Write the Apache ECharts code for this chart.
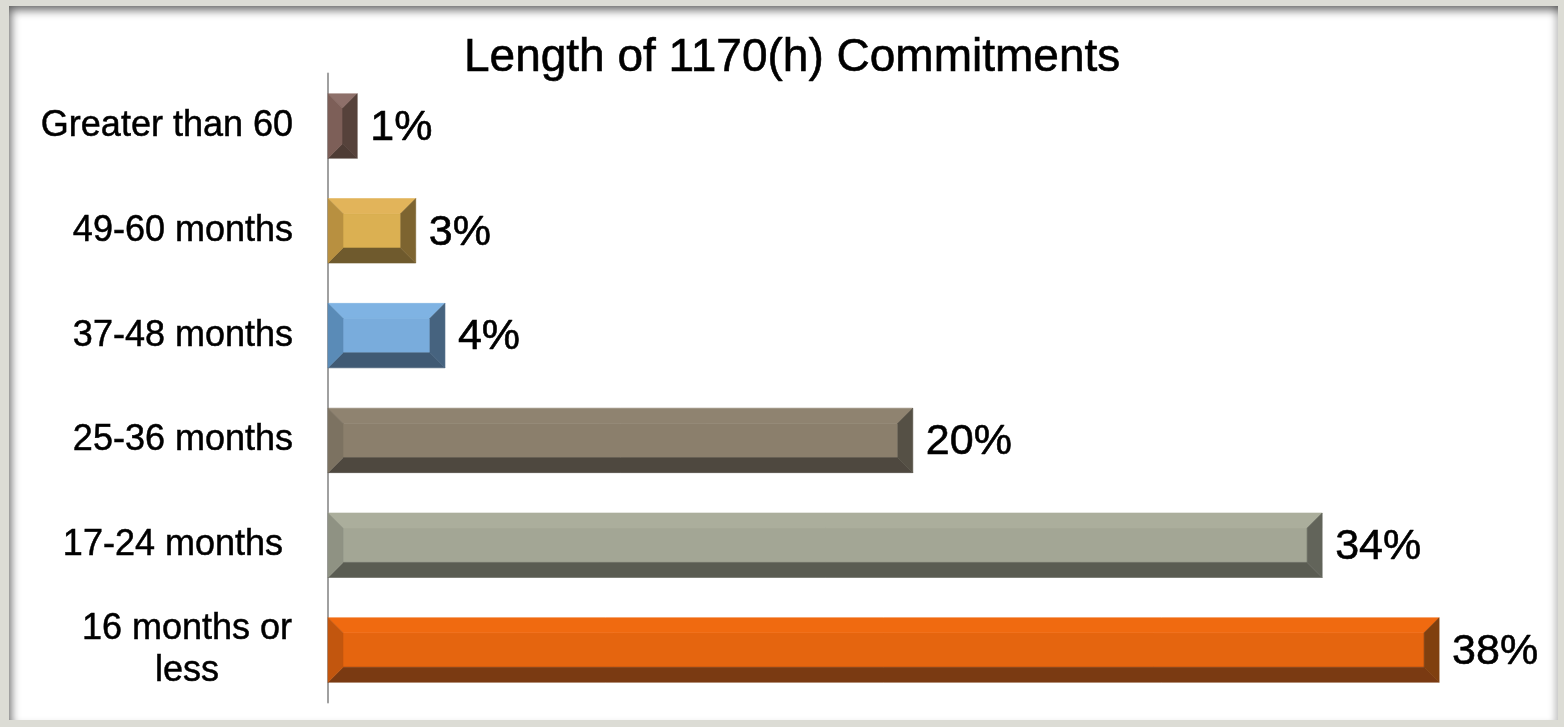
<!DOCTYPE html>
<html>
<head>
<meta charset="utf-8">
<title>Length of 1170(h) Commitments</title>
<script src="https://cdn.jsdelivr.net/npm/echarts@6/dist/echarts.min.js"></script>
<style>
  html, body { margin: 0; padding: 0; background: #dcdcd5; overflow: hidden; }
  #panel {
    position: absolute; left: 9px; top: 6px; width: 1549px; height: 714px;
    background: #fff;
    box-shadow: inset 7px 9px 10px -5px rgba(0,0,0,0.6), inset -7px 0 7px -4px rgba(0,0,0,0.25);
  }
  #chart { position: absolute; left: 0; top: 0; width: 1564px; height: 727px; }
</style>
</head>
<body>
<div id="panel"></div>
<div id="chart"></div>
<script>
// bottom -> top, as the category axis runs
const categories = ['16 months or\nless', '17-24 months ', '25-36 months', '37-48 months', '49-60 months', 'Greater than 60']
const percents = [38, 34, 20, 4, 3, 1]

// bevel faces per bar: top, left, center, right, bottom
const faceColors = [
  ['#f06a10', '#c2560e', '#e5650f', '#80400f', '#7a3a12'],
  ['#abae9c', '#8f9283', '#a3a695', '#62645a', '#5a5c52'],
  ['#8f8370', '#7c7261', '#8b7f6c', '#555045', '#4e483f'],
  ['#7fb3e3', '#5a8bb7', '#79acdc', '#46637f', '#405a74'],
  ['#e2b45a', '#b89040', '#dbb052', '#7d6430', '#6f5a2d'],
  ['#8e706a', '#7d5f58', '#7a5c55', '#56423b', '#4e3c35']
]

const chart = echarts.init(document.getElementById('chart'))

function renderBevelBar(params, api) {
  const idx = api.value(1)
  const start = api.coord([0, idx])
  const end = api.coord([api.value(0), idx])
  const h = api.size([0, 1])[1] * 0.615
  const x0 = start[0], x1 = end[0]
  const yT = start[1] - h / 2, yB = start[1] + h / 2
  const b = Math.min(15, (x1 - x0) / 2, h / 2)
  const c = faceColors[params.dataIndex]
  // thin stroke in the face colour hides the antialias seams between faces
  const poly = (pts, fill) => ({ type: 'polygon', shape: { points: pts }, style: { fill: fill, stroke: fill, lineWidth: 0.6 } })
  return {
    type: 'group',
    children: [
      { type: 'rect', shape: { x: x0 + b, y: yT + b, width: Math.max(0, x1 - x0 - 2 * b), height: h - 2 * b }, style: { fill: c[2], stroke: c[2], lineWidth: 0.6 } },
      poly([[x0, yT], [x1, yT], [x1 - b, yT + b], [x0 + b, yT + b]], c[0]),
      poly([[x0, yB], [x1, yB], [x1 - b, yB - b], [x0 + b, yB - b]], c[4]),
      poly([[x0, yT], [x0 + b, yT + b], [x0 + b, yB - b], [x0, yB]], c[1]),
      poly([[x1, yT], [x1 - b, yT + b], [x1 - b, yB - b], [x1, yB]], c[3]),
      {
        type: 'text',
        style: {
          text: api.value(0) + '%',
          x: x1 + 13, y: start[1] + 2,
          verticalAlign: 'middle', align: 'left',
          font: '43px "Liberation Sans"', fill: '#000',
          stroke: '#000', lineWidth: 0.6
        }
      }
    ]
  }
}

chart.setOption({
  animation: false,
  title: {
    text: 'Length of 1170(h) Commitments',
    left: 459,
    top: 30,
    textStyle: {
      fontFamily: 'Liberation Sans', fontSize: 46, fontWeight: 'normal', color: '#000',
      textBorderColor: '#000', textBorderWidth: 0.6
    }
  },
  grid: { left: 328, top: 73.6, height: 628.8, width: 1169.6 },
  xAxis: {
    type: 'value', min: 0, max: 40, show: false
  },
  yAxis: {
    type: 'category',
    data: categories,
    axisTick: { show: false },
    axisLine: { lineStyle: { color: '#a0a0a0', width: 2 } },
    axisLabel: {
      fontFamily: 'Liberation Sans', fontSize: 36, color: '#000', margin: 35, align: 'right',
      textBorderColor: '#000', textBorderWidth: 0.5,
      formatter: v => v.indexOf('\n') >= 0 ? v.split('\n').map(s => '{c|' + s + '}').join('\n') : v,
      rich: {
        c: {
          width: 212, align: 'center', fontSize: 36, lineHeight: 42, fontFamily: 'Liberation Sans', color: '#000',
          textBorderColor: '#000', textBorderWidth: 0.5
        }
      }
    }
  },
  series: [{
    type: 'custom',
    renderItem: renderBevelBar,
    encode: { x: 0, y: 1 },
    data: percents.map((v, i) => [v, i])
  }]
})
</script>
</body>
</html>
